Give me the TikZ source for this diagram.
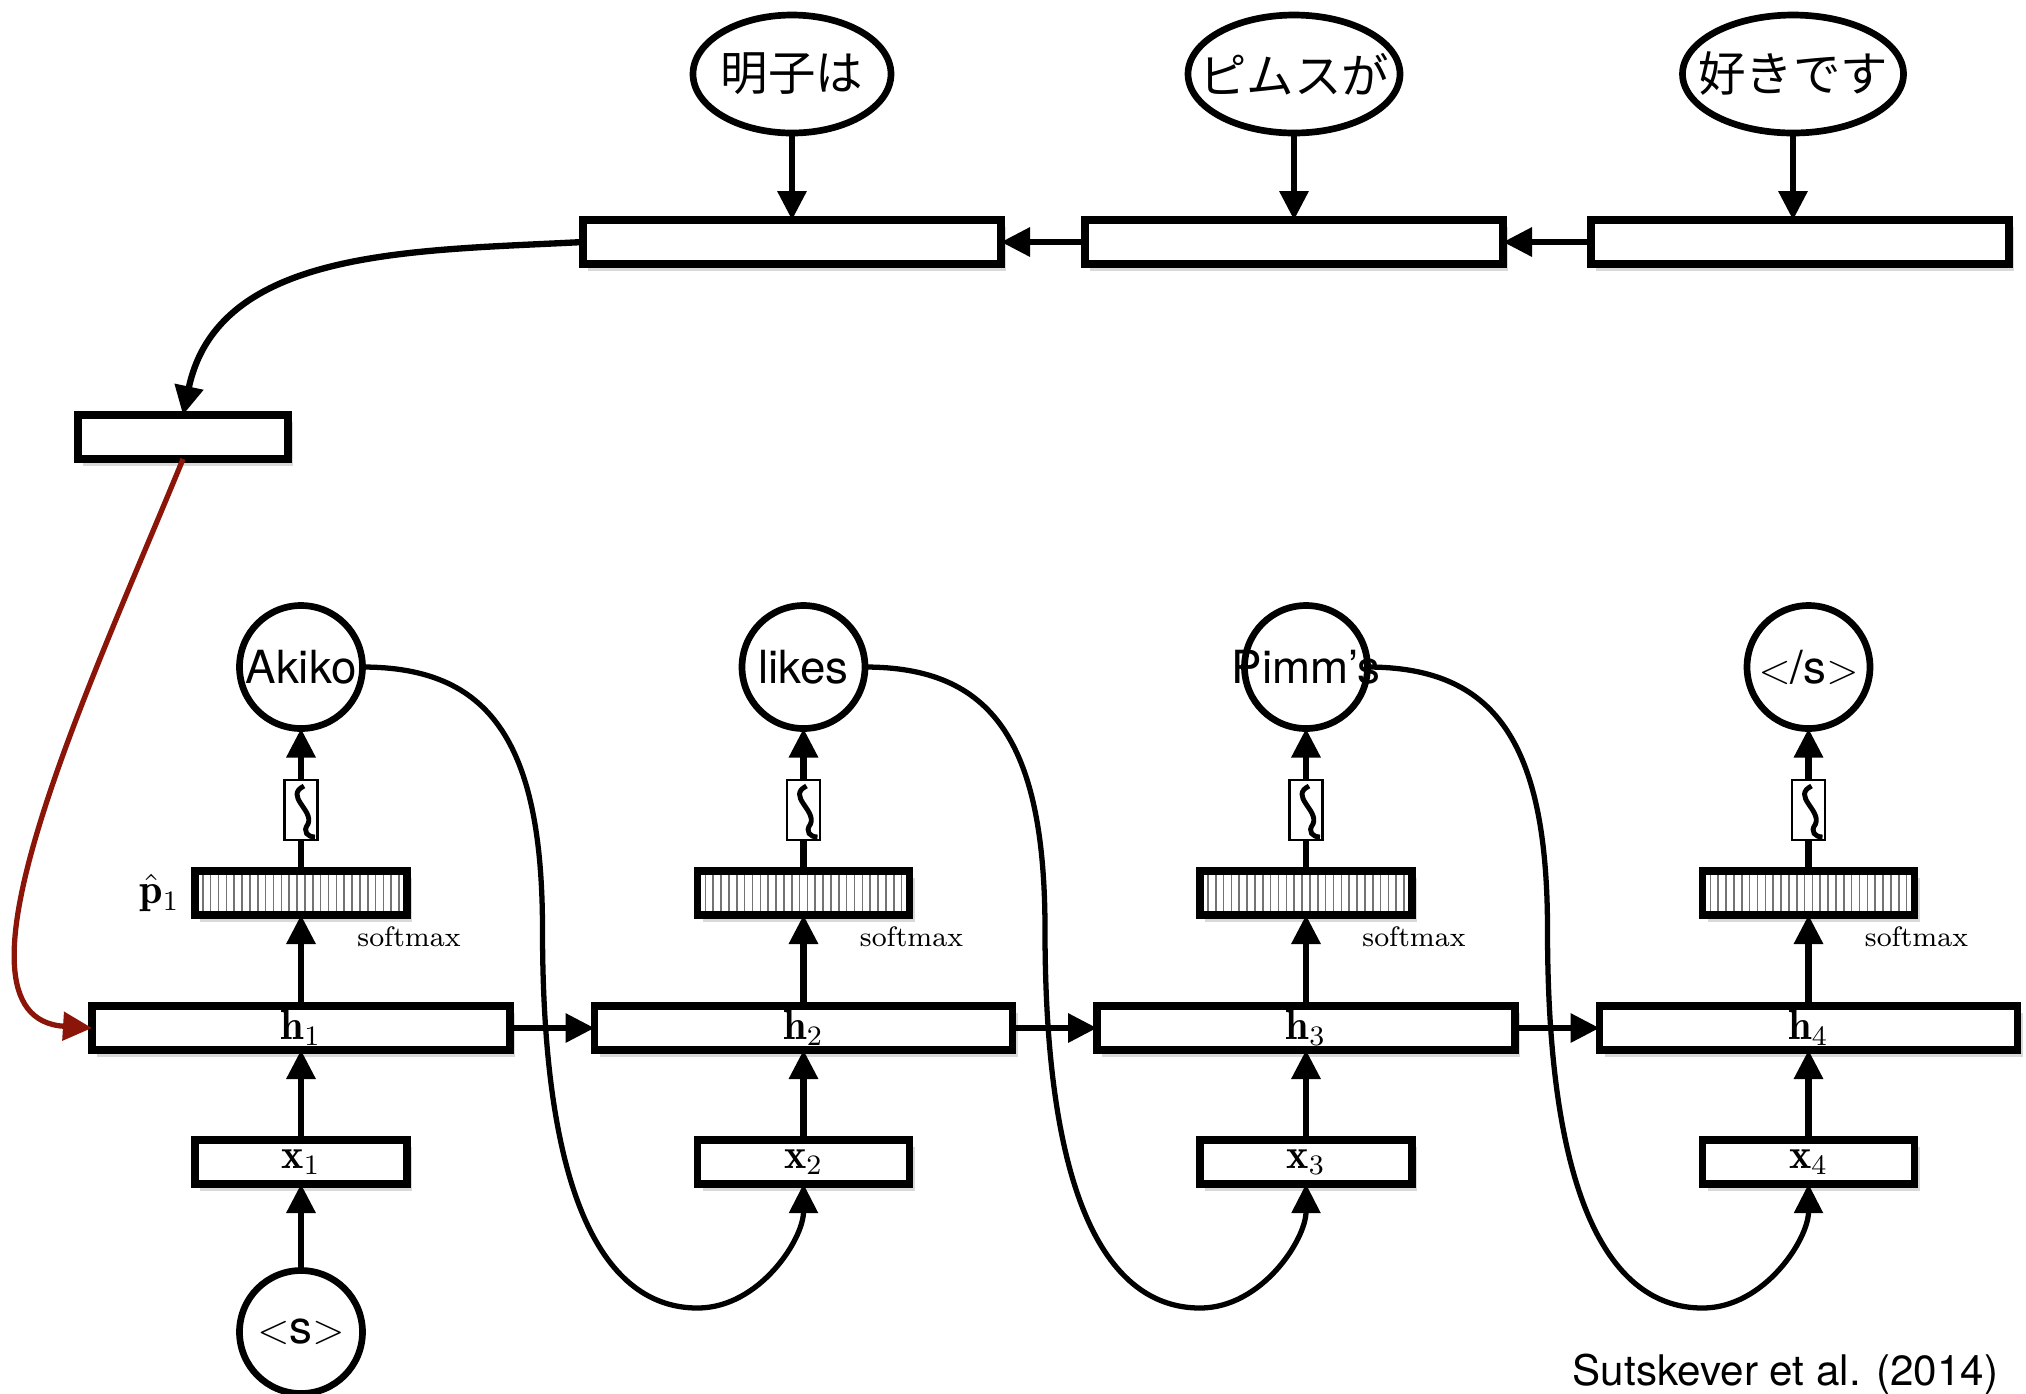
\documentclass[tikz,border=0pt]{standalone}
\usepackage{fontspec}
\usepackage{amsmath}
\usepackage{tikz}
\usetikzlibrary{shapes.geometric, arrows.meta, positioning, calc, shadows}
\setsansfont{TeX Gyre Heros}
\newfontfamily\jpfont{Noto Sans CJK JP}
\definecolor{myred}{RGB}{139,21,8}
\tikzset{
  vecbox/.style={rectangle, draw=black, fill=white, line width=2.1pt, outer sep=0pt,
    minimum width=4.18cm, minimum height=0.44cm, inner sep=0pt, font=\large,
    drop shadow={shadow xshift=0.05cm, shadow yshift=-0.07cm, opacity=0.3}},
  smallvec/.style={vecbox, minimum width=2.12cm},
  probbox/.style={smallvec, path picture={
    \foreach \k in {1,...,26}
      \draw[black!55, line width=0.45pt]
        ($(path picture bounding box.south west)+(\k*0.0785,0)$) -- ++(0,0.5);}},
  sqbox/.style={rectangle, draw=black, fill=white, line width=0.8pt, outer sep=0pt,
    minimum width=0.33cm, minimum height=0.6cm, inner sep=0pt},
  word/.style={circle, draw=black, line width=1.9pt, minimum size=1.23cm, outer sep=0pt,
    inner sep=0pt, font=\sffamily\fontsize{13}{15}\selectfont},
  jword/.style={ellipse, draw=black, line width=1.9pt, minimum height=1.18cm, outer sep=0pt,
    inner sep=0pt, font=\jpfont\fontsize{13.5}{16}\selectfont},
  arrow/.style={-{Triangle[width=0.28cm,length=0.29cm]}, line width=1.8pt, color=black},
  looparrow/.style={arrow, line width=1.5pt},
  redarrow/.style={arrow, line width=1.5pt, color=myred},
  line/.style={line width=1.8pt, color=black}
}
\newcommand{\wordtext}[1]{\makebox[0pt]{#1}}

\begin{document}
\begin{tikzpicture}
  \useasboundingbox (0,0) rectangle (20.26,-13.93);

  % target sentence (top row)
  \node[vecbox] (r1) at (7.92,-2.42) {};
  \node[vecbox] (r2) at (12.94,-2.42) {};
  \node[vecbox] (r3) at (18.0,-2.42) {};
  \node[jword, minimum width=1.98cm, above=0.87cm of r1] (e1) {\wordtext{明子は}};
  \node[jword, minimum width=2.12cm, above=0.87cm of r2] (e2) {\wordtext{ピムスが}};
  \node[jword, minimum width=2.21cm, above=0.87cm of r3, xshift=-0.07cm] (e3) {\wordtext{好きです}};
  \node[vecbox, minimum width=2.10cm] (ctx) at (1.83,-4.37) {};

  \foreach \i in {1,2,3}
    \draw[arrow] (e\i.south) -- (e\i.south |- r\i.north);
  \draw[arrow] (r2.west) -- (r1.east);
  \draw[arrow] (r3.west) -- (r2.east);
  \draw[arrow] (r1.west) to[out=183, in=78] (ctx.north);

  % decoder columns
  \foreach \i/\x/\w in {1/3.01/Akiko, 2/8.035/likes, 3/13.06/Pimm's, 4/18.085/{$<$/s$>$}} {
    \node[vecbox] (h\i) at (\x,-10.28) {$\mathbf{h}_{\i}$};
    \node[smallvec, below=0.9cm of h\i] (x\i) {$\mathbf{x}_{\i}$};
    \node[probbox, above=0.91cm of h\i] (sm\i) {};
    \node[sqbox, above=0.31cm of sm\i] (sq\i) {};
    \node[word, above=0.515cm of sq\i] (o\i) {\wordtext{\w}};
    \node[font=\footnotesize, anchor=north, inner sep=1pt] (lbl\i)
      at ($(sm\i.south east)+(0.02,-0.07)$) {softmax};
    \draw[line width=1.4pt] ($(sq\i.center)+(0.03,0.24)$)
      .. controls +(-0.2,-0.1) and +(0.06,0.14) .. ++(0.04,-0.38)
      .. controls +(-0.06,-0.08) and +(-0.07,0) .. ++(0.07,-0.13);
    \draw[arrow] (x\i) -- (h\i);
    \draw[arrow] (h\i) -- (sm\i);
    \draw[line] (sm\i) -- (sq\i);
    \draw[arrow] (sq\i) -- (o\i);
  }
  \node[font=\large, left=0.03cm of sm1] (p1) {$\hat{\mathbf{p}}_1$};
  \node[word, below=0.865cm of x1] (s) {\wordtext{$<$s$>$}};
  \draw[arrow] (s) -- (x1);

  \foreach \i/\j in {1/2,2/3,3/4} {
    \draw[arrow] (h\i.east) -- (h\j.west);
    \draw[looparrow] (o\i.east) .. controls +(1.26,0) and +(0,1.9) .. ++(1.80,-2.63)
      .. controls +(0,-3.0) and +(-0.78,0) .. ++(1.55,-3.78)
      .. controls +(0.62,0) and +(0,-0.55) .. (x\j.south);
  }

  \draw[redarrow] (ctx.south) .. controls +(-0.9,-2.2) and +(-1.6,0.1) .. (h1.west);

  \node[font=\sffamily\fontsize{12}{14}\selectfont, anchor=base east, inner sep=0pt]
    (cite) at (19.99,-13.85) {Sutskever et al. (2014)};
\end{tikzpicture}
\end{document}
